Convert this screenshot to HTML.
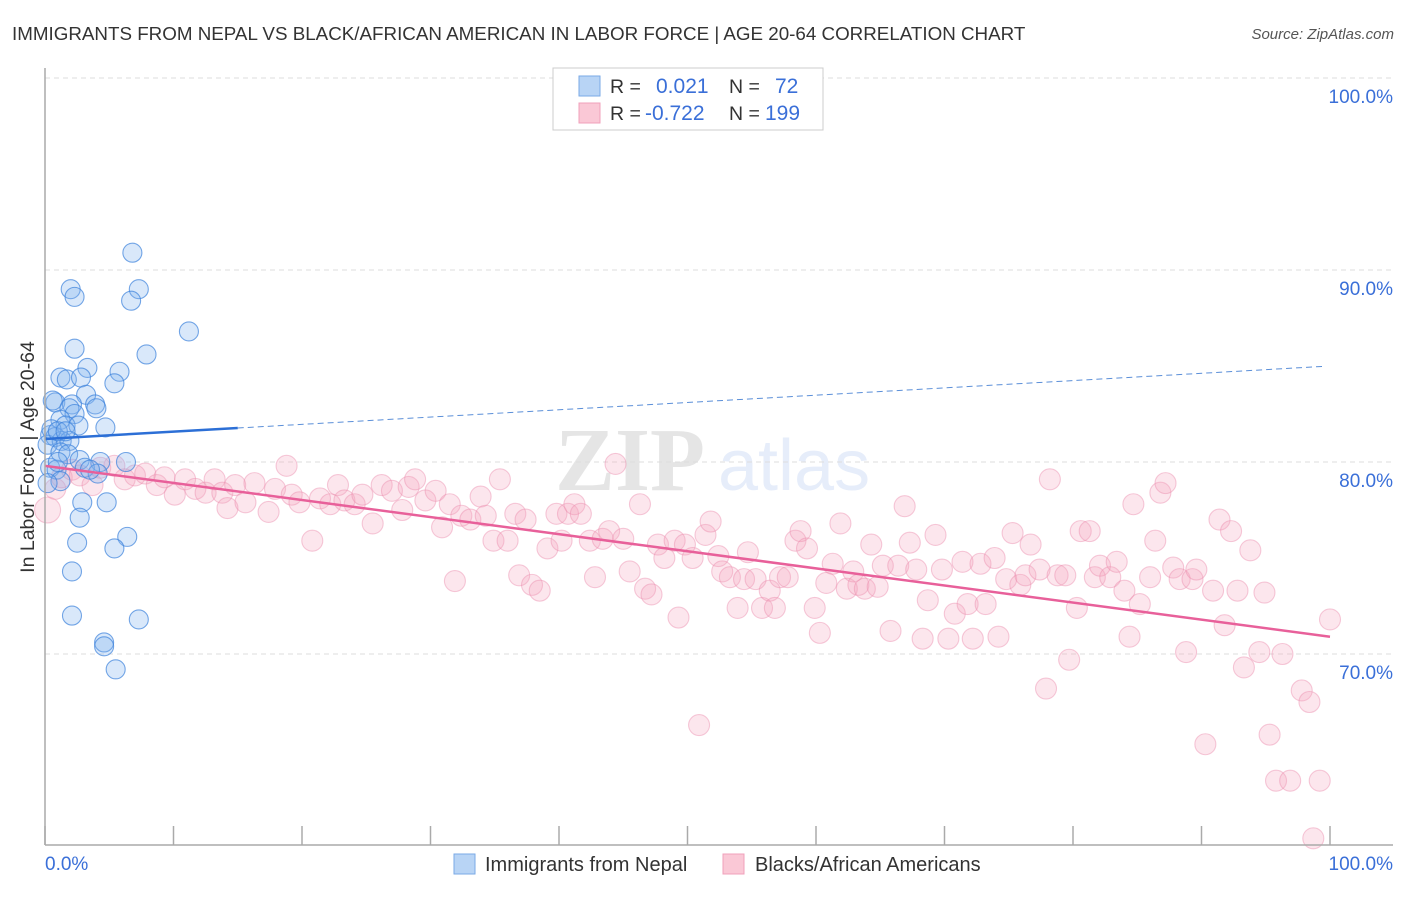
<!DOCTYPE html>
<html><head><meta charset="utf-8"><style>
body{margin:0;background:#fff;font-family:"Liberation Sans",sans-serif}
</style></head><body>
<svg id="c" width="1406" height="892" xmlns="http://www.w3.org/2000/svg" style="font-family:'Liberation Sans',sans-serif">
<text x="12" y="40" font-size="18.8" fill="#333">IMMIGRANTS FROM NEPAL VS BLACK/AFRICAN AMERICAN IN LABOR FORCE | AGE 20-64 CORRELATION CHART</text>
<text x="1394" y="39" font-size="15" fill="#555" font-style="italic" text-anchor="end">Source: ZipAtlas.com</text>
<g opacity="0.12"><text x="555" y="490" font-size="90" font-family="Liberation Serif" fill="#333" font-weight="bold">ZIP</text><text x="718" y="490" font-size="72" fill="#3a6fd8">atlas</text></g>
<g id="grid"></g><g id="pts"></g><g id="lines"></g>
<line x1="45" y1="68" x2="45" y2="845" stroke="#aaa" stroke-width="1.5"/>
<line x1="45" y1="845" x2="1393" y2="845" stroke="#aaa" stroke-width="1.5"/>
<text transform="translate(34,457) rotate(-90)" font-size="19.5" fill="#333" text-anchor="middle">In Labor Force | Age 20-64</text>
<text x="45" y="870" font-size="19" fill="#3a6fd8">0.0%</text>
<text x="1393" y="870" font-size="19" fill="#3a6fd8" text-anchor="end">100.0%</text>
<g>
<rect x="553" y="68" width="270" height="62" fill="#fff" stroke="#ccc"/>
<rect x="579" y="76" width="21" height="20" fill="#b8d4f5" stroke="#7aaae6"/>
<rect x="579" y="103" width="21" height="20" fill="#fac8d6" stroke="#f0a0bb"/>
<text x="610" y="93" font-size="19.5" fill="#333">R =</text><text x="656" y="93" font-size="21" fill="#3a6fd8">0.021</text>
<text x="729" y="93" font-size="19.5" fill="#333">N =</text><text x="775" y="93" font-size="21" fill="#3a6fd8">72</text>
<text x="610" y="120" font-size="19.5" fill="#333">R =</text><text x="645" y="120" font-size="21" fill="#3a6fd8">-0.722</text>
<text x="729" y="120" font-size="19.5" fill="#333">N =</text><text x="765" y="120" font-size="21" fill="#3a6fd8">199</text>
</g>
<g>
<rect x="454" y="854" width="21" height="20" fill="#b8d4f5" stroke="#7aaae6"/>
<text x="485" y="871" font-size="20" fill="#333">Immigrants from Nepal</text>
<rect x="723" y="854" width="21" height="20" fill="#fac8d6" stroke="#f0a0bb"/>
<text x="755" y="871" font-size="20" fill="#333">Blacks/African Americans</text>
</g>
</svg>
<script>
const yTicks=[100,90,80,70];
const yTickLabels=["100.0%","90.0%","80.0%","70.0%"];
const xTicks=[0,10,20,30,40,50,60,70,80,90,100];
const blueX=[6.8,2.0,2.3,7.3,6.7,11.2,2.3,7.9,3.3,5.8,1.2,1.7,2.8,5.4,3.2,0.8,2.1,3.9,4.0,1.9,2.3,1.2,1.6,2.6,4.7,0.4,0.8,1.3,1.9,0.2,1.2,1.8,2.7,4.3,6.3,0.4,0.9,3.1,4.1,1.2,0.2,2.9,4.8,2.7,2.5,6.4,5.4,2.1,2.1,7.3,4.6,4.6,5.5,0.5,1.0,1.6,0.6,1.0,3.5];
const blueY=[90.9,89.0,88.6,89.0,88.4,86.8,85.9,85.6,84.9,84.7,84.4,84.3,84.4,84.1,83.5,83.1,83.0,83.0,82.8,82.8,82.5,82.2,81.9,81.9,81.8,81.4,81.3,81.1,81.1,80.9,80.5,80.4,80.1,80.0,80.0,79.7,79.6,79.7,79.4,79.0,78.9,77.9,77.9,77.1,75.8,76.1,75.5,74.3,72.0,71.8,70.6,70.4,69.2,81.7,81.6,81.6,83.2,80.0,79.6];
const pinkX=[0.2,0.8,1.3,2.1,2.7,3.7,4.3,5.4,6.2,7.0,7.8,8.7,9.3,10.1,10.9,11.7,12.5,13.2,13.8,14.2,14.8,15.6,16.3,17.4,17.9,18.8,19.2,19.8,20.8,21.4,22.2,22.8,23.3,24.1,24.7,25.5,26.2,27.0,27.8,28.3,28.8,29.6,30.4,30.9,31.5,31.9,32.4,33.1,33.9,34.3,34.9,35.4,36.0,36.6,36.9,37.4,37.9,38.5,39.1,39.8,40.2,40.7,41.2,41.7,42.4,42.8,43.4,43.9,44.4,45.0,45.5,46.3,46.7,47.2,47.7,48.2,49.0,49.3,49.8,50.4,50.9,51.4,51.8,52.4,52.7,53.3,53.9,54.4,54.7,55.3,55.8,56.4,56.8,57.2,57.8,58.4,58.8,59.3,59.9,60.3,60.8,61.3,61.9,62.4,62.9,63.3,63.8,64.3,64.8,65.2,65.8,66.4,66.9,67.3,67.8,68.3,68.7,69.3,69.8,70.3,70.8,71.4,71.8,72.2,72.8,73.2,73.9,74.2,74.8,75.3,75.9,76.3,76.7,77.4,77.9,78.2,78.8,79.4,79.7,80.3,80.6,81.3,81.7,82.1,82.9,83.4,84.0,84.4,84.7,85.2,86.0,86.4,86.8,87.2,87.8,88.3,88.8,89.3,89.6,90.3,90.9,91.4,91.8,92.3,92.8,93.3,93.8,94.5,94.9,95.3,95.8,96.3,96.9,97.8,98.4,99.2,98.7,100];
const pinkY=[77.5,78.6,79.2,79.6,79.3,78.8,79.7,79.8,79.1,79.3,79.4,78.8,79.2,78.3,79.1,78.6,78.4,79.1,78.4,77.6,78.8,77.9,78.9,77.4,78.6,79.8,78.3,77.9,75.9,78.1,77.8,78.8,78.0,77.8,78.3,76.8,78.8,78.5,77.5,78.7,79.1,78.0,78.5,76.6,77.8,73.8,77.2,77.0,78.2,77.2,75.9,79.1,75.9,77.3,74.1,77.0,73.6,73.3,75.5,77.3,75.9,77.3,77.8,77.3,75.9,74.0,76.0,76.4,79.9,76.0,74.3,77.8,73.4,73.1,75.7,75.0,75.9,71.9,75.7,75.0,66.3,76.2,76.9,75.1,74.3,74.0,72.4,73.9,75.3,73.9,72.4,73.3,72.4,74.0,74.0,75.9,76.4,75.5,72.4,71.1,73.7,74.7,76.8,73.4,74.3,73.6,73.4,75.7,73.5,74.6,71.2,74.6,77.7,75.8,74.4,70.8,72.8,76.2,74.4,70.8,72.1,74.8,72.6,70.8,74.7,72.6,75.0,70.9,73.9,76.3,73.6,74.1,75.7,74.4,68.2,79.1,74.1,74.1,69.7,72.4,76.4,76.4,74.0,74.6,74.0,74.8,73.3,70.9,77.8,72.6,74.0,75.9,78.4,78.9,74.5,73.9,70.1,73.9,74.4,65.3,73.3,77.0,71.5,76.4,73.3,69.3,75.4,70.1,73.2,65.8,63.4,70.0,63.4,68.1,67.5,63.4,60.4,71.8];
const blueTrend=[81.2,85.0];
const blueSolidEnd=15;
const pinkTrend=[79.8,70.9];
const X=v=>45+v*12.85, Y=v=>78+(100-v)*19.2;
const NS="http://www.w3.org/2000/svg";
function mk(tag,attrs,parent){const e=document.createElementNS(NS,tag);for(const k in attrs)e.setAttribute(k,attrs[k]);document.getElementById(parent).appendChild(e);return e;}
yTicks.forEach((t,i)=>{
 const l=mk('line',{x1:45,x2:1393,y1:Y(t),y2:Y(t),stroke:'#ddd','stroke-dasharray':'5,4'},'grid');
 
 
 const tx=mk('text',{x:1393,y:Y(t)+25,'font-size':19,fill:'#3a6fd8','text-anchor':'end'},'grid');
 tx.textContent=yTickLabels[i];
 
 
});
xTicks.forEach(t=>{
 const l=mk('line',{x1:X(t),x2:X(t),y1:826,y2:845,stroke:'#aaa','stroke-width':1.5},'grid');
 
 
});
pinkX.forEach((x,i)=>{
 const c=mk('circle',{cx:X(x),cy:Y(pinkY[i]),r:i==0?13:10.5,fill:'rgba(244,165,192,0.28)',stroke:'rgba(236,140,172,0.45)','stroke-width':1.1},'pts');
 
 
});
blueX.forEach((x,i)=>{
 const c=mk('circle',{cx:X(x),cy:Y(blueY[i]),r:9.5,fill:'rgba(130,178,238,0.3)',stroke:'rgba(60,130,220,0.7)','stroke-width':1.1},'pts');
 
 
});
const bAt=x=>blueTrend[0]+(blueTrend[1]-blueTrend[0])*x/100;
const b1=mk('line',{x1:X(0),y1:Y(bAt(0)),x2:X(blueSolidEnd),y2:Y(bAt(blueSolidEnd)),stroke:'#2c6fd6','stroke-width':2.5},'lines');


const b2=mk('line',{x1:X(blueSolidEnd),y1:Y(bAt(blueSolidEnd)),x2:X(99.6),y2:Y(bAt(99.6)),stroke:'#5b8fd8','stroke-width':1,'stroke-dasharray':'6,4'},'lines');


const p1=mk('line',{x1:X(0),y1:Y(pinkTrend[0]),x2:X(100),y2:Y(pinkTrend[1]),stroke:'#e8609a','stroke-width':2.5},'lines');


</script>
</body></html>
